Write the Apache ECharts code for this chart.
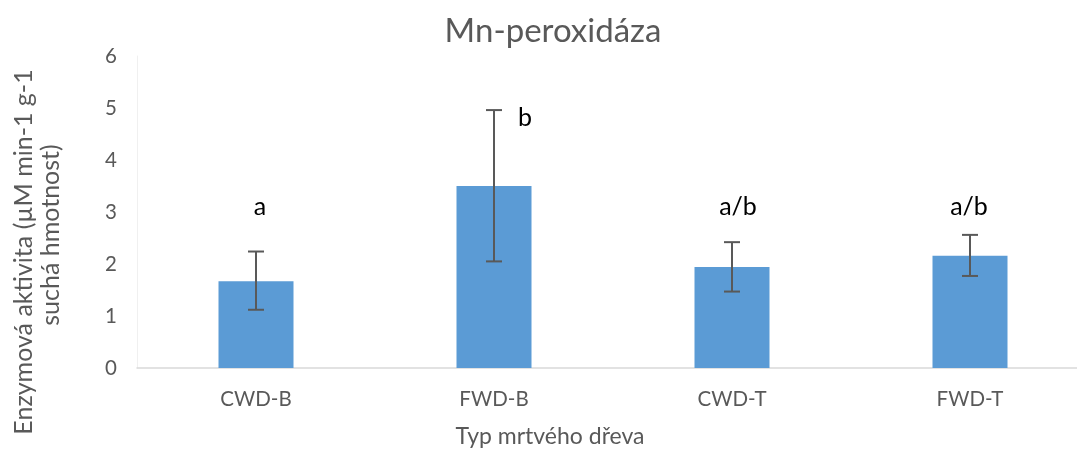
<!DOCTYPE html>
<html>
<head>
<meta charset="utf-8">
<script src="https://cdn.jsdelivr.net/npm/echarts@6/dist/echarts.min.js"></script>
<style>
html,body{margin:0;padding:0;background:#fff;overflow:hidden;width:1077px;height:450px;}
#chart{width:1100px;height:450px;}
</style>
</head>
<body>
<div id="chart"></div>
<script>
const categories = ['CWD-B', 'FWD-B', 'CWD-T', 'FWD-T'];
const meanValues = [1.67, 3.50, 1.94, 2.16];
const errLow = [1.12, 2.05, 1.47, 1.77];
const errHigh = [2.24, 4.96, 2.42, 2.56];
const letters = ['a', 'b', 'a/b', 'a/b'];
const letterHeights = [3.1, 4.8, 3.1, 3.1];
const yTicks = [0, 1, 2, 3, 4, 5, 6];

const FONT = 'Lato, "Open Sans", sans-serif';
const chart = echarts.init(document.getElementById('chart'));
const letterDx = [4, 31, 6, -1];

chart.setOption({
  animation: false,
  backgroundColor: '#ffffff',
  grid: { left: 137, top: 56, width: 952, height: 312, containLabel: false },
  xAxis: {
    type: 'category',
    data: categories,
    axisLine: { show: true, lineStyle: { color: '#d9d9d9', width: 1.5 } },
    axisTick: { show: false },
    axisLabel: { fontFamily: FONT, fontSize: 20.5, color: '#595959', margin: 21 }
  },
  yAxis: {
    type: 'value',
    min: yTicks[0],
    max: yTicks[yTicks.length - 1],
    interval: 1,
    axisLine: { show: true, lineStyle: { color: '#f0f0f0', width: 1 } },
    axisTick: { show: false },
    splitLine: { show: false },
    axisLabel: { fontFamily: FONT, fontSize: 20.5, color: '#595959', margin: 20 }
  },
  graphic: [
    { type: 'text', x: 553, y: 31,
      style: { text: 'Mn-peroxidáza', font: '33px ' + FONT, fill: '#595959', align: 'center', verticalAlign: 'middle' } },
    { type: 'text', x: 550, y: 437,
      style: { text: 'Typ mrtvého dřeva', font: '23px ' + FONT, fill: '#595959', align: 'center', verticalAlign: 'middle' } },
    { type: 'text', x: 24, y: 252, rotation: Math.PI / 2,
      style: { text: 'Enzymová aktivita (µM min-1 g-1', font: '25px ' + FONT, fill: '#595959', align: 'center', verticalAlign: 'middle' } },
    { type: 'text', x: 51, y: 235, rotation: Math.PI / 2,
      style: { text: 'suchá hmotnost)', font: '25px ' + FONT, fill: '#595959', align: 'center', verticalAlign: 'middle' } }
  ],
  series: [
    {
      type: 'bar',
      data: meanValues,
      barWidth: 75,
      itemStyle: { color: '#5b9bd5' }
    },
    {
      type: 'custom',
      data: categories.map((c, i) => [i, errLow[i], errHigh[i]]),
      z: 5,
      renderItem: function (params, api) {
        const lo = api.coord([api.value(0), api.value(1)]);
        const hi = api.coord([api.value(0), api.value(2)]);
        const cap = 8;
        const st = { stroke: '#595959', lineWidth: 2 };
        return {
          type: 'group',
          children: [
            { type: 'line', shape: { x1: lo[0], y1: lo[1], x2: hi[0], y2: hi[1] }, style: st },
            { type: 'line', shape: { x1: lo[0] - cap, y1: lo[1], x2: lo[0] + cap, y2: lo[1] }, style: st },
            { type: 'line', shape: { x1: hi[0] - cap, y1: hi[1], x2: hi[0] + cap, y2: hi[1] }, style: st }
          ]
        };
      }
    },
    {
      type: 'custom',
      data: categories.map((c, i) => [i, letterHeights[i]]),
      z: 6,
      renderItem: function (params, api) {
        const p = api.coord([api.value(0), api.value(1)]);
        const i = params.dataIndex;
        return {
          type: 'text',
          x: p[0] + letterDx[i],
          y: p[1],
          style: { text: letters[i], font: '25px ' + FONT, fill: '#000000', align: 'center', verticalAlign: 'middle' }
        };
      }
    }
  ]
});
</script>
</body>
</html>
